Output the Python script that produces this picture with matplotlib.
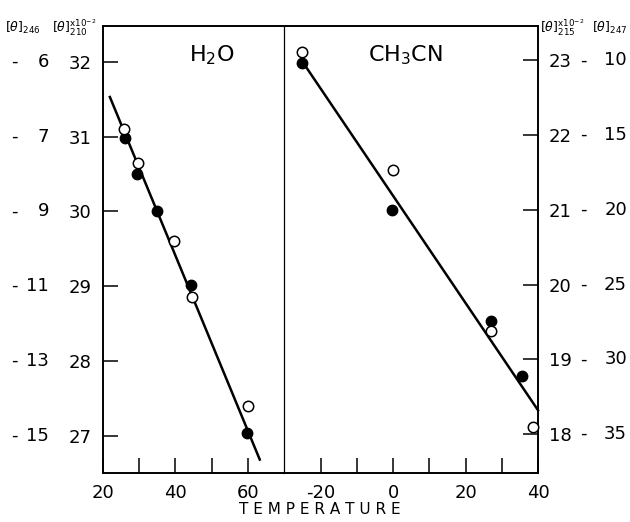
import matplotlib
matplotlib.use("Agg")
import matplotlib.pyplot as plt
import matplotlib.transforms as mtransforms

# H2O panel data (temperature, [theta]210 x 10^-2)
h2o_filled_t = [26, 29.5, 35, 44.4, 59.7]
h2o_filled_v = [30.98, 30.50, 30.0, 29.02, 27.03]
h2o_open_t = [25.9, 29.8, 39.7, 44.7, 60.0]
h2o_open_v = [31.10, 30.65, 29.61, 28.86, 27.39]
h2o_line_t = [21.9, 63.3]
h2o_line_v = [31.53, 26.68]

# CH3CN panel data (temperature, [theta]215 x 10^-2)
mecn_filled_t = [-25.2, -0.4, 27.0, 35.5]
mecn_filled_v = [22.97, 21.0, 19.52, 18.78]
mecn_open_t = [-25.2, -0.1, 27.0, 38.6]
mecn_open_v = [23.11, 21.53, 19.38, 18.10]
mecn_line_t = [-25.2, 40.0]
mecn_line_v = [22.99, 18.32]

# axis labels
left_ticks = [32, 31, 30, 29, 28, 27]
left_outer = ["6", "7", "9", "11", "13", "15"]
right_ticks = [23, 22, 21, 20, 19, 18]
right_outer = ["10", "15", "20", "25", "30", "35"]

W, H = 630, 522
fig = plt.figure(figsize=(6.3, 5.22), dpi=100)

x0, x_div, x1 = 103, 284, 538
y_top, y_bot = 26, 473
ax1 = fig.add_axes([x0 / W, (H - y_bot) / H, (x_div - x0) / W, (y_bot - y_top) / H])
ax2 = fig.add_axes([x_div / W, (H - y_bot) / H, (x1 - x_div) / W, (y_bot - y_top) / H])

for ax in (ax1, ax2):
    for s in ax.spines.values():
        s.set_linewidth(1.4)
    ax.tick_params(direction="in", length=11, width=1.1, labelsize=13, pad=8)

# thin divider between the two panels
ax1.spines["right"].set_visible(False)
ax2.spines["left"].set_linewidth(0.9)

# H2O panel
ax1.plot(h2o_line_t, h2o_line_v, color="black", lw=1.8)
ax1.plot(h2o_filled_t, h2o_filled_v, "o", color="black", ms=7.5, zorder=3)
ax1.plot(h2o_open_t, h2o_open_v, "o", mfc="white", mec="black", mew=1.1, ms=7.5, zorder=3)
ax1.set_xlim(20, 70)
ax1.set_ylim(26.5, 32.48)
ax1.set_xticks([20, 30, 40, 50, 60])
ax1.set_xticklabels(["20", "", "40", "", "60"])
ax1.set_yticks(left_ticks)
ax1.set_yticklabels([str(v) for v in left_ticks])
ax1.text(0.6, 0.92, r"H$_2$O", transform=ax1.transAxes, fontsize=16, ha="center")

# CH3CN panel
ax2.plot(mecn_line_t, mecn_line_v, color="black", lw=1.8, clip_on=False)
ax2.plot(mecn_filled_t, mecn_filled_v, "o", color="black", ms=7.5, zorder=3)
ax2.plot(mecn_open_t, mecn_open_v, "o", mfc="white", mec="black", mew=1.1, ms=7.5, zorder=3, clip_on=False)
ax2.set_xlim(-30.2, 40)
ax2.set_ylim(17.48, 23.46)
ax2.set_xticks([-20, -10, 0, 10, 20, 30, 40])
ax2.set_xticklabels(["-20", "", "0", "", "20", "", "40"])
ax2.yaxis.tick_right()
ax2.set_yticks(right_ticks)
ax2.set_yticklabels([str(v) for v in right_ticks])
ax2.text(0.48, 0.92, r"CH$_3$CN", transform=ax2.transAxes, fontsize=16, ha="center")

# outer [theta]246 / [theta]247 scales
tr1 = mtransforms.blended_transform_factory(fig.transFigure, ax1.transData)
for v, lab in zip(left_ticks, left_outer):
    ax1.text(14 / W, v, "-", transform=tr1, fontsize=13, ha="center", va="center")
    ax1.text(49 / W, v, lab, transform=tr1, fontsize=13, ha="right", va="center")
tr2 = mtransforms.blended_transform_factory(fig.transFigure, ax2.transData)
for v, lab in zip(right_ticks, right_outer):
    ax2.text(583 / W, v, "-", transform=tr2, fontsize=13, ha="center", va="center")
    ax2.text(627 / W, v, lab, transform=tr2, fontsize=13, ha="right", va="center")

# column headers
fig.text(5 / W, (H - 32) / H, r"$[\theta]_{246}$", fontsize=9)
fig.text(52 / W, (H - 32) / H, r"$[\theta]^{\mathrm{x}10^{-2}}_{210}$", fontsize=9)
fig.text(540 / W, (H - 32) / H, r"$[\theta]^{\mathrm{x}10^{-2}}_{215}$", fontsize=9)
fig.text(592 / W, (H - 32) / H, r"$[\theta]_{247}$", fontsize=9)

fig.text(320 / W, (H - 509) / H, "T E M P E R A T U R E", fontsize=11, ha="center", va="center")

fig.savefig("out.png", dpi=100)
